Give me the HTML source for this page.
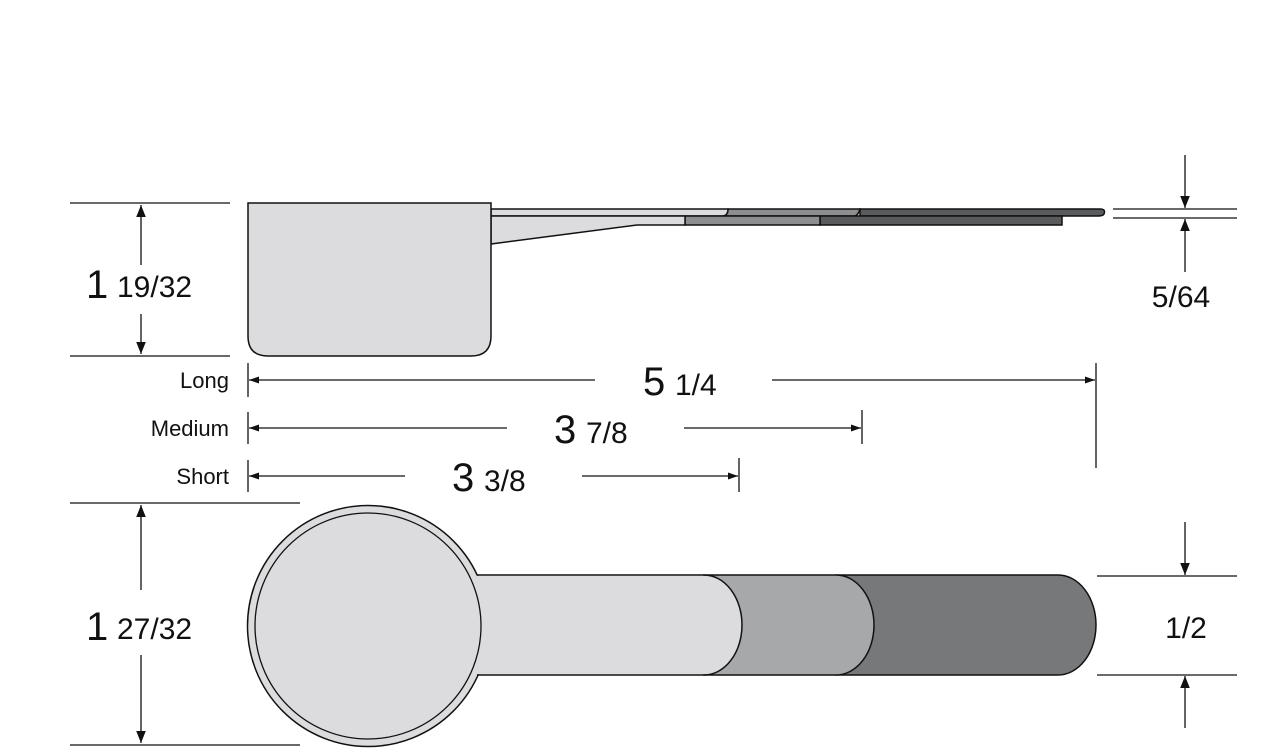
<!DOCTYPE html>
<html><head><style>html,body{margin:0;padding:0;background:#fff}svg{display:block}text{font-family:"Liberation Sans",sans-serif;fill:#111}</style></head><body>
<svg width="1275" height="752" viewBox="0 0 1275 752" xmlns="http://www.w3.org/2000/svg">
<defs>
<marker id="a" viewBox="0 0 10 10" refX="10" refY="5" markerWidth="10" markerHeight="10" markerUnits="userSpaceOnUse" orient="auto"><path d="M0,1.5 L10,5 L0,8.5 z" fill="#111"/></marker>
<marker id="b" viewBox="0 0 10 10" refX="10" refY="5" markerWidth="12" markerHeight="14" markerUnits="userSpaceOnUse" orient="auto"><path d="M0,1 L10,5 L0,9 z" fill="#111"/></marker>
</defs>
<g stroke="#111" stroke-width="1.5">
<path d="M860,209 H1100 Q1106,209 1104,214 Q1103,216 1098,216 H860 Z" fill="#5a5b5d"/>
<path d="M728,209 H860 Q858,216 854,216 H724 Q728,214 728,209 Z" fill="#8d8e90"/>
<path d="M491,209 H728 Q728,216 722,216 H491 Z" fill="#dcdcde"/>
<path d="M820,216 H1062 V225 H820 Z" fill="#5a5b5d"/>
<path d="M685,216 H820 V225 H685 Z" fill="#8d8e90"/>
<path d="M491,216 H685 V225 H637 L491,244 Z" fill="#dcdcde"/>
<path d="M248,203 H491 V336 Q491,356 471,356 H268 Q248,356 248,336 Z" fill="#dcdcde"/>
<path d="M836,575 H1058 A38,50 0 0 1 1058,675 H836 Z" fill="#77787a"/>
<path d="M704,575 H836 A38,50 0 0 1 836,675 H704 Z" fill="#a7a8aa"/>
<circle cx="368" cy="626" r="120.5" fill="#dcdcde"/>
<path d="M462,575.8 H704 A38,49.2 0 0 1 704,674.2 H462 Z" fill="#dcdcde" stroke="none"/>
<path d="M477,575 H704 A38,50 0 0 1 704,675 H477" fill="none"/>
<circle cx="368" cy="626" r="113" fill="none" stroke-width="1.3"/>
</g>
<g stroke="#111" stroke-width="1.3" fill="none">
<line x1="70" y1="203" x2="230" y2="203"/><line x1="70" y1="356" x2="230" y2="356"/>
<line x1="141" y1="265" x2="141" y2="205" marker-end="url(#b)"/>
<line x1="141" y1="314" x2="141" y2="354" marker-end="url(#b)"/>
<line x1="70" y1="503" x2="300" y2="503"/><line x1="70" y1="745" x2="300" y2="745"/>
<line x1="141" y1="590" x2="141" y2="505" marker-end="url(#b)"/>
<line x1="141" y1="655" x2="141" y2="743" marker-end="url(#b)"/>
<line x1="248" y1="363" x2="248" y2="397"/><line x1="248" y1="412" x2="248" y2="444"/><line x1="248" y1="460" x2="248" y2="492"/>
<line x1="1096" y1="363" x2="1096" y2="468"/><line x1="862" y1="410" x2="862" y2="444"/><line x1="739" y1="458" x2="739" y2="492"/>
<line x1="595" y1="380" x2="249" y2="380" marker-end="url(#a)"/>
<line x1="772" y1="380" x2="1095" y2="380" marker-end="url(#a)"/>
<line x1="507" y1="428" x2="249" y2="428" marker-end="url(#a)"/>
<line x1="684" y1="428" x2="861" y2="428" marker-end="url(#a)"/>
<line x1="405" y1="476" x2="249" y2="476" marker-end="url(#a)"/>
<line x1="582" y1="476" x2="738" y2="476" marker-end="url(#a)"/>
<line x1="1113" y1="209" x2="1237" y2="209"/><line x1="1113" y1="218" x2="1237" y2="218"/>
<line x1="1185" y1="155" x2="1185" y2="208" marker-end="url(#b)"/>
<line x1="1185" y1="272" x2="1185" y2="219" marker-end="url(#b)"/>
<line x1="1097" y1="576" x2="1237" y2="576"/><line x1="1097" y1="675" x2="1237" y2="675"/>
<line x1="1185" y1="522" x2="1185" y2="575" marker-end="url(#b)"/>
<line x1="1185" y1="728" x2="1185" y2="676" marker-end="url(#b)"/>
</g>
<text x="86" y="298" font-size="40">1</text><text x="117" y="297" font-size="30">19/32</text>
<text x="86" y="640" font-size="40">1</text><text x="117" y="639" font-size="30">27/32</text>
<text x="229" y="388" font-size="22" text-anchor="end">Long</text>
<text x="229" y="436" font-size="22" text-anchor="end">Medium</text>
<text x="229" y="484" font-size="22" text-anchor="end">Short</text>
<text x="643" y="395" font-size="40">5</text><text x="675" y="395" font-size="30">1/4</text>
<text x="554" y="443" font-size="40">3</text><text x="586" y="443" font-size="30">7/8</text>
<text x="452" y="491" font-size="40">3</text><text x="484" y="491" font-size="30">3/8</text>
<text x="1181" y="307" font-size="30" text-anchor="middle">5/64</text>
<text x="1186" y="638" font-size="30" text-anchor="middle">1/2</text>
</svg>
</body></html>
